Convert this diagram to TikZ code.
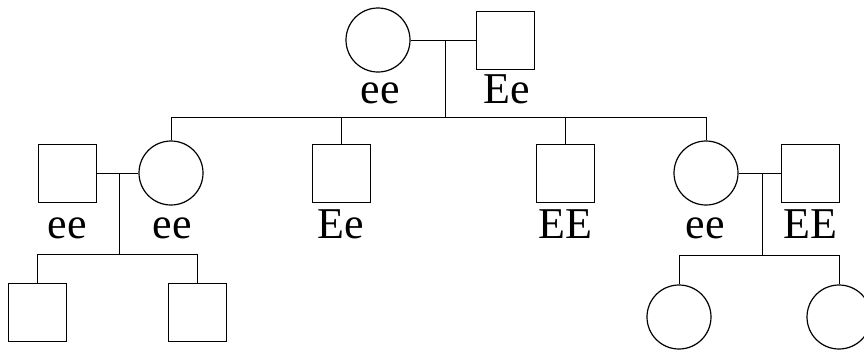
\documentclass[tikz,border=0pt]{standalone}
\usepackage{fontspec}
\setmainfont{Liberation Serif}
\usetikzlibrary{calc}
\tikzset{fem/.style={circle,draw=black,line width=1.2pt,minimum size=64pt,inner sep=0pt}}
\tikzset{male/.style={rectangle,draw=black,line width=0.9pt,minimum size=58pt,inner sep=0pt}}
\tikzset{geno/.style={anchor=base,inner sep=0pt,font=\fontsize{44}{48}\selectfont}}
\begin{document}
\begin{tikzpicture}[x=1pt,y=-1pt,line width=0.9pt]
\clip (0,0) rectangle (864,349);
% first generation
\node (m0) at (378,40) [fem] {};
\node (f0) at (505,40) [male] {};
\node (lm0) at (380,103) [geno] {ee};
\node (lf0) at (507,103) [geno] {Ee};
\coordinate (j0) at (445,40);
\coordinate (s0) at (445,117);
\draw (m0) -- (f0) (j0) -- (s0);
% second generation
\node (h1) at (67,173) [male] {};
\node (w1) at (171,173) [fem] {};
\node (s2) at (341,173) [male] {};
\node (s3) at (565,173) [male] {};
\node (w4) at (706,173) [fem] {};
\node (h4) at (810,173) [male] {};
\node (lh1) at (67,238) [geno] {ee};
\node (lw1) at (172,238) [geno] {ee};
\node (ls2) at (341,238) [geno] {Ee};
\node (ls3) at (565,238) [geno] {EE};
\node (lw4) at (705,238) [geno] {ee};
\node (lh4) at (810,238) [geno] {EE};
\draw (w1.north |- s0) -- (w4.north |- s0);
\foreach \k in {w1,s2,s3,w4}
  \draw (\k.north) -- (\k.north |- s0);
\draw (h1) -- (w1) (w4) -- (h4);
% third generation
\node (g1) at (37,312) [male] {};
\node (g2) at (197,312) [male] {};
\node (g3) at (679,317) [fem] {};
\node (g4) at (839,317) [fem] {};
\coordinate (j1) at (119,173);
\coordinate (s1) at (119,254);
\coordinate (j4) at (762,173);
\coordinate (s4) at (762,255);
\draw (j1) -- (s1) (g1.north |- s1) -- (g2.north |- s1);
\draw (j4) -- (s4) (g3.north |- s4) -- (g4.north |- s4);
\foreach \k/\s in {g1/s1,g2/s1,g3/s4,g4/s4}
  \draw (\k.north) -- (\k.north |- \s);
\end{tikzpicture}
\end{document}
